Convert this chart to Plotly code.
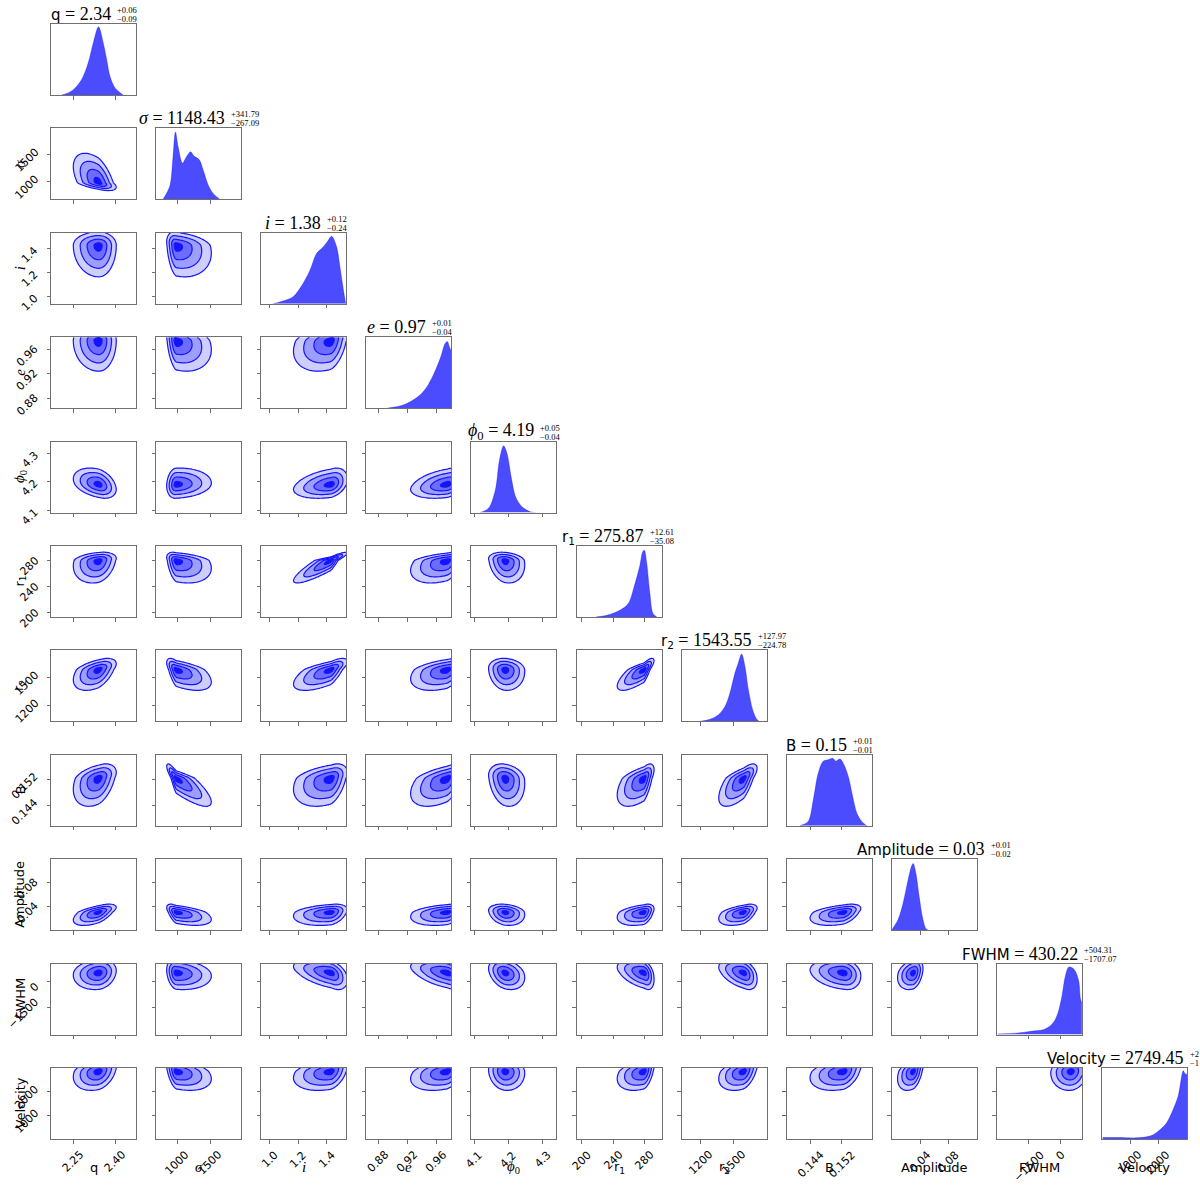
import numpy as np
import plotly.graph_objects as go

# ---------------- data ----------------
labels = ["q", "<i>σ</i>", "<i>i</i>", "<i>e</i>", "<i>ϕ</i><sub>0</sub>",
          "r<sub>1</sub>", "r<sub>2</sub>", "B", "Amplitude", "FWHM", "Velocity"]
label_plain = ["q", "σ", "i", "e", "ϕ0", "r1", "r2", "B", "Amplitude", "FWHM", "Velocity"]
label_math = [False, True, True, True, True, False, False, False, False, False, False]

axis_lo = [2.171, 675, 0.940, 0.8637, 4.092, 193, 1025, 0.1379, -0.001, -3010, 10]
axis_hi = [2.475, 1968, 1.535, 0.9805, 4.340, 302, 1796, 0.1596, 0.120, 1010, 3010]

tick_vals = [[2.25, 2.40], [1000, 1500], [1.0, 1.2, 1.4], [0.88, 0.92, 0.96],
             [4.1, 4.2, 4.3], [200, 240, 280], [1200, 1500], [0.144, 0.152],
             [0.04, 0.08], [-1500, 0], [1000, 2000]]
tick_text = [["2.25", "2.40"], ["1000", "1500"], ["1.0", "1.2", "1.4"],
             ["0.88", "0.92", "0.96"], ["4.1", "4.2", "4.3"], ["200", "240", "280"],
             ["1200", "1500"], ["0.144", "0.152"], ["0.04", "0.08"], ["−1500", "0"],
             ["1000", "2000"]]

# 1d marginals (diagonal panels), height relative to the panel
q_x = [2.209, 2.227, 2.251, 2.281, 2.304, 2.322, 2.341, 2.358, 2.370, 2.382, 2.400, 2.429]
q_d = [0, 0.02, 0.075, 0.22, 0.45, 0.73, 0.96, 0.73, 0.5, 0.26, 0.1, 0]
sigma_x = [780, 882, 933, 969, 1010, 1076, 1138, 1199, 1249, 1331, 1392, 1468, 1545, 1647]
sigma_d = [0, 0.18, 0.6, 0.95, 0.74, 0.51, 0.6, 0.67, 0.61, 0.56, 0.41, 0.2, 0.08, 0]
i_x = [1.023, 1.093, 1.164, 1.222, 1.281, 1.328, 1.374, 1.402, 1.433, 1.468, 1.491, 1.515, 1.531]
i_d = [0, 0.04, 0.1, 0.25, 0.47, 0.71, 0.8, 0.87, 0.95, 0.8, 0.52, 0.2, 0.0]
e_x = [0.892, 0.910, 0.924, 0.938, 0.947, 0.956, 0.966, 0.972, 0.975, 0.978, 0.9805]
e_d = [0, 0.03, 0.09, 0.19, 0.30, 0.47, 0.72, 0.91, 0.94, 0.86, 0.8]
phi0_x = [4.118, 4.142, 4.162, 4.174, 4.186, 4.196, 4.208, 4.221, 4.240, 4.265, 4.279]
phi0_d = [0, 0.06, 0.32, 0.74, 0.94, 0.83, 0.5, 0.22, 0.08, 0.01, 0]
r1_x = [218, 231, 244, 255, 261, 267, 274, 278, 280, 283, 287, 291, 296]
r1_d = [0, 0.02, 0.07, 0.14, 0.22, 0.43, 0.71, 0.92, 0.94, 0.76, 0.34, 0.05, 0]
r2_x = [1192, 1283, 1358, 1419, 1464, 1509, 1539, 1570, 1600, 1630, 1670, 1706, 1730]
r2_d = [0, 0.03, 0.09, 0.21, 0.4, 0.68, 0.82, 0.95, 0.77, 0.45, 0.16, 0.03, 0]
B_x = [0.14126, 0.14339, 0.14467, 0.14595, 0.14723, 0.14851, 0.14963, 0.15048,
       0.15150, 0.15252, 0.15363, 0.15475, 0.15578, 0.15706, 0.15834]
B_d = [0, 0.06, 0.36, 0.74, 0.91, 0.93, 0.95, 0.91, 0.94, 0.86, 0.69, 0.41, 0.18, 0.06, 0]
amp_x = [-0.0006, 0.0009, 0.0080, 0.0151, 0.0223, 0.0271, 0.0294, 0.0333, 0.0380, 0.0429, 0.0476, 0.0509]
amp_d = [0.01, 0.03, 0.15, 0.38, 0.71, 0.9, 0.94, 0.8, 0.47, 0.17, 0.02, 0]
fwhm_x = [-2970, -2089, -1293, -814, -493, -254, -96, 67, 225, 383, 546, 704, 862, 944, 1010]
fwhm_d = [0.01, 0.02, 0.05, 0.07, 0.12, 0.21, 0.33, 0.54, 0.82, 0.95, 0.94, 0.89, 0.75, 0.5, 0.45]
vel_x = [35, 645, 1115, 1588, 1821, 2057, 2294, 2527, 2703, 2880, 2940, 3010]
vel_d = [0.02, 0.02, 0.015, 0.03, 0.06, 0.13, 0.23, 0.42, 0.61, 0.96, 0.92, 0.91]

diag_x = [q_x, sigma_x, i_x, e_x, phi0_x, r1_x, r2_x, B_x, amp_x, fwhm_x, vel_x]
diag_d = [q_d, sigma_d, i_d, e_d, phi0_d, r1_d, r2_d, B_d, amp_d, fwhm_d, vel_d]

# values printed above the diagonal (the Velocity errors run off the page)
post_val = ["2.34", "1148.43", "1.38", "0.97", "4.19", "275.87", "1543.55", "0.15", "0.03", "430.22", "2749.45"]
post_up = ["+0.06", "+341.79", "+0.12", "+0.01", "+0.05", "+12.61", "+127.97", "+0.01", "+0.01", "+504.31", "+2"]
post_dn = ["−0.09", "−267.09", "−0.24", "−0.04", "−0.04", "−35.08", "−224.78", "−0.01", "−0.02", "−1707.07", "−1"]

# 2d panels: peak position, lower / upper spread, pair correlations
mode = [2.342, 975, 1.43, 0.975, 4.19, 280, 1590, 0.1525, 0.030, 500, 2880]
spread_lo = [0.038, 58, 0.11, 0.021, 0.020, 14.5, 95, 0.0036, 0.0095, 400, 340]
spread_hi = [0.026, 225, 0.047, 0.011, 0.024, 5.2, 50, 0.0018, 0.0056, 320, 210]
corr = [
    [],
    [-0.55],
    [0.0, -0.25],
    [0.0, -0.3, 0.35],
    [-0.35, 0.1, 0.35, 0.35],
    [0.25, -0.35, 0.9, 0.45, -0.2],
    [0.5, -0.6, 0.7, 0.45, -0.1, 0.8],
    [0.4, -0.85, 0.4, 0.55, -0.2, 0.6, 0.7],
    [0.6, -0.55, 0.3, 0.35, -0.2, 0.4, 0.5, 0.45],
    [0.15, -0.2, -0.45, -0.45, -0.3, -0.4, -0.4, -0.2, 0.3],
    [0.3, -0.4, 0.35, 0.4, -0.1, 0.4, 0.4, 0.35, 0.4, 0.1],
]

# ---------------- figure ----------------
W, H = 1200, 1189
PW, PH = 85, 71
col_left = [51 + 105.1 * c for c in range(11)]
row_top = [24 + 104.4 * r for r in range(11)]

SANS = "DejaVu Sans"
SERIF = "Liberation Serif"
TS = 18  # serif size of the titles
frame_col = "#6f6f6f"
blue_fill = "rgba(0,0,255,0.7)"
contour_scale = [
    [0.0, "rgba(255,255,255,0)"],
    [0.25, "rgb(206,206,255)"],
    [0.5, "rgb(158,158,255)"],
    [0.75, "rgb(108,108,255)"],
    [1.0, "rgb(20,20,250)"],
]

frame = dict(showline=True, mirror=True, linecolor=frame_col, linewidth=1,
             ticks="outside", ticklen=3.5, tickwidth=1, tickcolor=frame_col,
             showgrid=False, zeroline=False, showticklabels=False, fixedrange=True)

SANS_W = {"q": .635, "B": .686, "A": .684, "m": .974, "p": .635, "l": .278, "i": .278,
          "t": .392, "u": .634, "d": .635, "e": .615, "F": .575, "W": .989, "H": .752,
          "M": .863, "V": .684, "o": .612, "c": .55, "y": .592, "r": .411}


def serif_width(s, size):
    w = 0
    for ch in s:
        if ch.isdigit():
            w += .5
        elif ch in ". ":
            w += .25
        elif ch in "=+−":
            w += .564
        else:
            w += .5
    return w * size


def sym_width(k):
    s = label_plain[k]
    if label_math[k]:
        return serif_width(s[0], TS) + (serif_width(s[1:], 12) if len(s) > 1 else 0)
    w = 0
    for ch in s:
        w += SANS_W[ch] * 15 if ch in SANS_W else serif_width(ch, 12)
    return w


def deviation(v, k):
    d = v - mode[k]
    return np.where(d < 0, d / spread_lo[k], d / spread_hi[k])


def sym_html(k, size_sans=15, size_serif=TS):
    if label_math[k]:
        return f'<span style="font-family:{SERIF};font-size:{size_serif}px">{labels[k]}</span>'
    return f'<span style="font-family:{SANS};font-size:{size_sans}px">{labels[k]}</span>'


fig = go.Figure()
axes = {}
ann = []
n_par = len(labels)

for r in range(n_par):
    for c in range(r + 1):
        n = r * n_par + c + 1
        suf = "" if n == 1 else str(n)
        x0, y0 = col_left[c], row_top[r]
        xa = dict(domain=[x0 / W, (x0 + PW) / W], range=[axis_lo[c], axis_hi[c]],
                  anchor="y" + suf, tickvals=tick_vals[c], **frame)
        if r == c:
            ya = dict(domain=[1 - (y0 + PH) / H, 1 - y0 / H], range=[0, 1.0],
                      anchor="x" + suf, **{**frame, "ticks": ""})
            fig.add_trace(go.Scatter(
                x=diag_x[c], y=diag_d[c], mode="lines",
                line=dict(color=blue_fill, width=0.5, shape="spline", smoothing=0.9),
                fill="tozeroy", fillcolor=blue_fill, hoverinfo="skip",
                xaxis="x" + suf, yaxis="y" + suf))
        else:
            ya = dict(domain=[1 - (y0 + PH) / H, 1 - y0 / H], range=[axis_lo[r], axis_hi[r]],
                      anchor="x" + suf, tickvals=tick_vals[r], **frame)
            xs = np.linspace(axis_lo[c], axis_hi[c], 60)
            ys = np.linspace(axis_lo[r], axis_hi[r], 60)
            gx, gy = np.meshgrid(xs, ys)
            u, v = deviation(gx, c), deviation(gy, r)
            rho = corr[r][c]
            q2 = (u ** 2 - 2 * rho * u * v + v ** 2) / (1 - rho ** 2)
            z = np.round(-np.sqrt(q2), 3)
            fig.add_trace(go.Contour(
                x=xs, y=ys, z=z, autocontour=False,
                contours=dict(start=-2.4, end=-0.45, size=0.65, coloring="fill"),
                colorscale=contour_scale, showscale=False,
                line=dict(color="rgb(20,20,255)", width=1.2, smoothing=1),
                hoverinfo="skip", xaxis="x" + suf, yaxis="y" + suf))
        axes["xaxis" + suf] = xa
        axes["yaxis" + suf] = ya

        # tick labels on the outer edges
        if r == n_par - 1:
            for tv, tt in zip(tick_vals[c], tick_text[c]):
                ann.append(dict(text=tt, x=tv, xref="x" + suf, y=1 - 1145.5 / H, yref="paper",
                                xanchor="center", yanchor="top", textangle=-45, showarrow=False,
                                font=dict(family=SANS, size=11, color="black")))
        if c == 0 and r > 0:
            for tv, tt in zip(tick_vals[r], tick_text[r]):
                ann.append(dict(text=tt, y=tv, yref="y" + suf, x=44 / W, xref="paper",
                                xanchor="right", yanchor="middle", yshift=-6, textangle=-45,
                                showarrow=False, font=dict(family=SANS, size=11, color="black")))

# axis labels
for k in range(n_par):
    xc = col_left[k] + PW / 2
    ann.append(dict(text=sym_html(k, 13, 15), x=xc / W, y=1 - 1167 / H, xref="paper", yref="paper",
                    xanchor="center", yanchor="middle", showarrow=False,
                    font=dict(family=SANS, size=13, color="black")))
    if k > 0:
        yc = row_top[k] + PH / 2
        ann.append(dict(text=sym_html(k, 13, 15), x=20 / W, y=1 - yc / H, xref="paper", yref="paper",
                        xanchor="center", yanchor="middle", textangle=-90, showarrow=False,
                        font=dict(family=SANS, size=13, color="black")))

# titles above the diagonal
gap = 2
for k in range(n_par):
    main_w = sym_width(k) + serif_width(" = " + post_val[k], TS)
    scr_w = max(serif_width(post_up[k], 8.5), serif_width(post_dn[k], 8.5))
    center = col_left[k] + PW / 2
    split = center - (main_w + gap + scr_w) / 2 + main_w
    split = min(split, W - 14)
    top = row_top[k]
    main_txt = sym_html(k) + f'<span style="font-family:{SERIF};font-size:{TS}px"> = {post_val[k]}</span>'
    ann.append(dict(text=main_txt, x=split / W, y=1 - (top - 10) / H, xref="paper", yref="paper",
                    xanchor="right", yanchor="middle", showarrow=False,
                    font=dict(family=SERIF, size=TS, color="black")))
    ann.append(dict(text=post_up[k], x=(split + gap) / W, y=1 - (top - 14) / H, xref="paper",
                    yref="paper", xanchor="left", yanchor="middle", showarrow=False,
                    font=dict(family=SERIF, size=8.5, color="black")))
    ann.append(dict(text=post_dn[k], x=(split + gap) / W, y=1 - (top - 5) / H, xref="paper",
                    yref="paper", xanchor="left", yanchor="middle", showarrow=False,
                    font=dict(family=SERIF, size=8.5, color="black")))

fig.update_layout(
    width=W, height=H,
    margin=dict(l=0, r=0, t=0, b=0),
    paper_bgcolor="white", plot_bgcolor="white",
    showlegend=False,
    font=dict(family=SANS, size=11, color="black"),
    annotations=ann,
    **axes,
)

fig.write_html("out.html", config={"displayModeBar": False},
               post_script="document.body.style.margin='0';")
